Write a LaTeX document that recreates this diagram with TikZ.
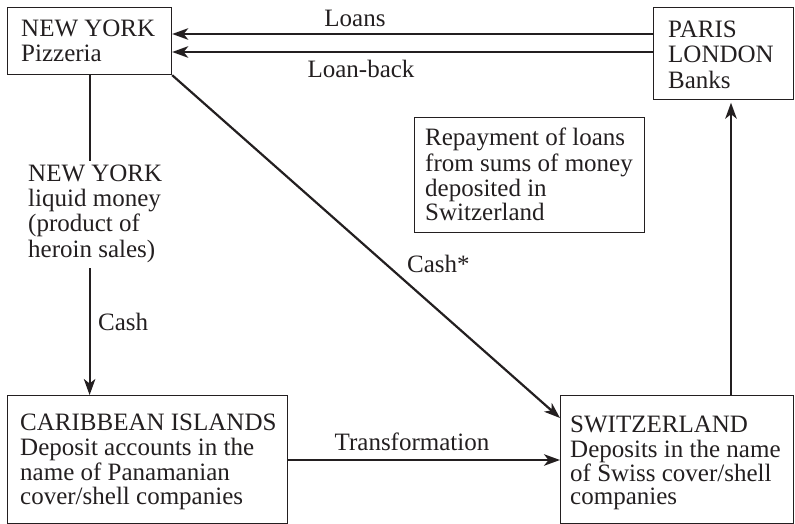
\documentclass[tikz,border=0pt]{standalone}
\usepackage{fontspec}
\setmainfont{Liberation Serif}
\usetikzlibrary{arrows.meta}
\definecolor{ink}{HTML}{231F20}
\begin{document}
\begin{tikzpicture}[x=1pt,y=-1pt,
  box/.style={draw=ink, line width=1.2pt, inner sep=0pt, anchor=north west},
  txt/.style={inner sep=0pt, anchor=north west, align=left, text=ink},
  lbl/.style={inner sep=0pt, text=ink, font=\fontsize{25}{25}\selectfont},
  arr/.style={draw=ink, line width=2.2pt, -{Stealth[length=16pt,width=11.5pt,inset=4.5pt]}},
  ]
\useasboundingbox (0,0) rectangle (795,524);
% boxes
\node[box, minimum width=164, minimum height=67] (ny) at (7,7) {};
\node[box, minimum width=140, minimum height=92] (pl) at (653,7) {};
\node[box, minimum width=230, minimum height=115] (rep) at (414,117) {};
\node[box, minimum width=280, minimum height=128] (car) at (7,395) {};
\node[box, minimum width=233, minimum height=128] (sw) at (560,395) {};
% box texts
\node[txt, font=\fontsize{25}{25}\selectfont] (nyt) at (21,18.5) {\strut NEW YORK\\Pizzeria};
\node[txt, font=\fontsize{25}{25.5}\selectfont] (plt) at (668,19.15) {\strut PARIS\\LONDON\\Banks};
\node[txt, font=\fontsize{25}{24.7}\selectfont] (rept) at (425,127.7) {\strut Repayment of loans\\from sums of money\\deposited in\\Switzerland};
\node[txt, font=\fontsize{25}{24.3}\selectfont] (cart) at (20,413) {\strut CARIBBEAN ISLANDS\\Deposit accounts in the\\name of Panamanian\\cover/shell companies};
\node[txt, font=\fontsize{25}{23.6}\selectfont] (swt) at (570,415.3) {\strut SWITZERLAND\\Deposits in the name\\of Swiss cover/shell\\companies};
% helper coordinates
\coordinate (yl) at (0,34);
\coordinate (yb) at (0,52);
\coordinate (yt) at (0,460);
\coordinate (yd) at (0,418);
\coordinate (xr) at (731,0);
% connectors
\draw[arr] (pl.west |- yl) -- (ny.east |- yl);
\draw[arr] (pl.west |- yb) -- (ny.east |- yb);
\draw[arr] (ny.south) -- (ny.south |- car.north);
\draw[arr] (ny.south east) -- (sw.west |- yd);
\draw[arr] (car.east |- yt) -- (sw.west |- yt);
\draw[arr, shorten >=2.5pt] (xr |- sw.north) -- (xr |- pl.south);
% labels
\node[txt, fill=white, inner sep=3pt, font=\fontsize{25}{25.3}\selectfont] (nyl) at (25,160.3) {\strut NEW YORK\\liquid money\\(product of\\heroin sales)\strut};
\node[lbl, anchor=base] (loans) at (355,27) {Loans};
\node[lbl, anchor=base] (loanb) at (361,78) {Loan-back};
\node[lbl, anchor=base] (trans) at (412,450) {Transformation};
\node[lbl, anchor=base west] (cashs) at (407,272) {Cash*};
\node[lbl, anchor=base west] (cash) at (98,330) {Cash};
\end{tikzpicture}
\end{document}
